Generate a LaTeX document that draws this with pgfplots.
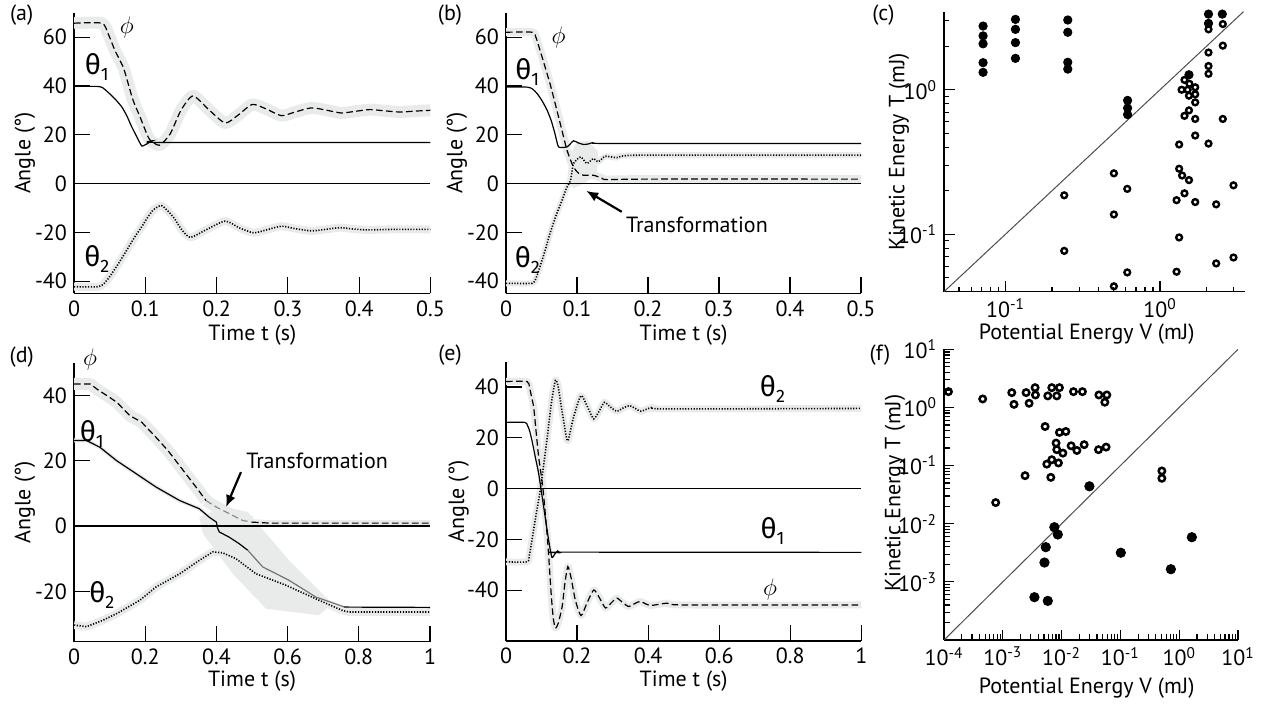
\documentclass[border=0pt]{standalone}
\usepackage{fontspec}
\setmainfont{PT Sans}
\newfontfamily\grk{Fira Sans}
\usepackage{pgfplots}
\usepackage{pgfplotstable}
\pgfplotsset{compat=1.18}
\usetikzlibrary{arrows.meta}
\definecolor{bandgray}{RGB}{233,235,234}
\newcommand\fs{\fontsize{11}{13}\selectfont}
\newcommand\thl[1]{{\grk\fontsize{14}{16}\selectfont θ\raisebox{-3pt}{\fontsize{9}{10}\selectfont #1}}}
\newcommand\phil{{\fontsize{12}{14}\selectfont$\phi$}}

\pgfplotsset{
  panel/.style={scale only axis, anchor=south west,
    axis x line*=bottom, axis y line*=left,
    axis line style={-, line width=0.6pt},
    tick align=inside, tick style={black, line width=0.6pt},
    major tick length=8pt, clip mode=individual,
    ticklabel style={font=\fs}, label style={font=\fs, inner sep=0pt}},
  logp/.style={panel, major tick length=5.5pt, minor tick length=2.5pt},
  bnd/.style={bandgray, line width=#1, line join=round, no marks},
  th1/.style={black, line width=0.6pt, no marks},
  phs/.style={black, line width=0.6pt, dash pattern=on 3.3pt off 1.7pt, no marks},
  th2/.style={black, line width=0.8pt, dash pattern=on 0.6pt off 0.8pt, no marks},
  opn/.style={only marks, mark=o, mark size=#1, mark options={black, line width=1.2pt}},
  fil/.style={only marks, mark=*, mark size=#1, mark options={black, fill=black}},
}

% ---- panel (a)
\pgfplotstableread{
t v
0 65.7
0.039 65.7
0.048 61.3
0.0575 54.5
0.069 47.7
0.076 40.9
0.083 34
0.0926 27.3
0.102 20.4
0.107 17.7
0.12 15.7
0.135 20.4
0.15 30
0.167 35.9
0.19 30
0.212 24.8
0.23 28
0.25 32.4
0.27 30.5
0.291 27.8
0.31 29.3
0.333 31
0.355 30
0.375 28.9
0.395 29.6
0.415 30.3
0.435 29.8
0.457 29.3
0.48 29.7
0.5 30
}\aphi
\pgfplotstableread{
t v
0 39.8
0.032 39.8
0.04 39.3
0.05 36.8
0.058 34.5
0.067 31.4
0.074 27.8
0.081 23.2
0.088 19.2
0.095 15.4
0.102 16.2
0.11 17.5
0.12 16.8
0.5 16.8
}\athone
\pgfplotstableread{
t v
0 -42.3
0.034 -42.3
0.042 -41
0.05 -38.2
0.062 -33
0.074 -27.3
0.085 -22
0.095 -17.7
0.103 -14
0.111 -10.9
0.123 -9.1
0.139 -13.6
0.15 -18.5
0.163 -22.1
0.185 -19
0.212 -15.4
0.232 -18.2
0.252 -20.2
0.27 -19
0.291 -17.5
0.31 -18.5
0.333 -19.4
0.353 -18.8
0.373 -18.1
0.39 -18.6
0.41 -19
0.45 -18.8
0.5 -18.8
}\athtwo

% ---- panel (b)
\pgfplotstableread{
t v
0 62
0.037 62
0.042 60
0.048 54.5
0.062 40.9
0.074 27.3
0.086 13.6
0.095 6.8
0.102 4.3
0.109 3.4
0.123 3.4
0.135 2.2
0.142 1.6
0.2 1.8
0.5 1.8
}\bphi
\pgfplotstableread{
t v
0 39.5
0.03 39.5
0.037 38.8
0.044 36.8
0.051 33.8
0.058 30
0.064 25.5
0.069 20.4
0.074 15
0.086 15
0.095 17.5
0.102 16.6
0.109 16
0.116 16.2
0.123 16.8
0.14 16.4
0.5 16.4
}\bthone
\pgfplotstableread{
t v
0 -40.9
0.037 -40.9
0.042 -39
0.048 -34
0.055 -27.5
0.062 -20.4
0.07 -13.5
0.079 -6.8
0.085 -2
0.091 1.4
0.095 8.2
0.105 10.9
0.114 8.2
0.123 10.2
0.13 8.9
0.14 11.2
0.156 10.6
0.185 11.6
0.5 11.6
}\bthtwo

% ---- panel (d)
\pgfplotstableread{
t v
0 43.5
0.045 43.5
0.07 41.5
0.1 39.4
0.12 37.9
0.157 33.8
0.19 31.8
0.23 27.2
0.264 23.1
0.3 18
0.343 11.9
0.371 7.8
}\dphia
\pgfplotstableread{
t v
0.371 7.8
0.4 5.8
0.436 3.8
0.474 1.7
0.5 1.2
}\dphib
\pgfplotstableread{
t v
0.5 1.2
0.55 0.9
1 0.9
}\dphic
\pgfplotstableread{
t v
0 26.2
0.035 26.2
0.073 24.1
0.12 20
0.175 16
0.231 11.9
0.297 7.8
0.352 5.3
0.38 2.7
0.4 1.2
0.403 -0.5
0.408 -1.8
0.436 -3.4
0.464 -5.4
0.488 -7.4
}\dthonea
\pgfplotstableread{
t v
0.488 -7.4
0.53 -12.5
0.604 -16.6
0.679 -21.7
0.758 -24.7
}\dthoneb
\pgfplotstableread{
t v
0.758 -24.8
1 -24.9
}\dthonec
\pgfplotstableread{
t v
0 -30.3
0.035 -30.8
0.082 -28.8
0.12 -26.8
0.185 -22.7
0.231 -18.6
0.297 -14.6
0.352 -10.5
0.39 -7.9
0.418 -8.2
0.455 -10
0.511 -14.6
0.595 -18.1
0.688 -22.7
0.753 -25.8
0.772 -26.3
1 -26.3
}\dthtwo

% ---- panel (e)
\pgfplotstableread{
t v
0 42.2
0.059 42.2
0.066 40
0.072 36
0.078 32
0.085 22
0.092 12.4
0.104 0
0.117 -20.3
0.127 -41.2
0.133 -51
0.139 -54.9
0.147 -53
0.158 -46.4
0.166 -37
0.174 -30.7
0.183 -35
0.195 -43.8
0.211 -50
0.228 -45
0.247 -39.9
0.263 -43
0.28 -47
0.296 -45
0.312 -43.1
0.328 -44.8
0.345 -46.4
0.362 -45.3
0.378 -44.4
0.406 -46
0.453 -45.1
0.5 -45.8
1 -45.8
}\ephi
\pgfplotstableread{
t v
0 26.1
0.053 26.1
0.06 25
0.066 23
0.073 19
0.083 12
0.092 5.9
0.106 -7.2
0.12 -20.3
0.129 -27
0.137 -25.8
0.145 -24.5
0.152 -25.2
0.165 -25
1 -25.1
}\ethone
\pgfplotstableread{
t v
0 -28.8
0.059 -28.8
0.066 -26
0.073 -20.3
0.085 -10
0.097 0
0.115 19
0.127 33
0.139 42.7
0.147 40
0.156 32
0.172 19
0.18 22
0.19 28.1
0.211 36.6
0.23 32
0.247 27.5
0.262 30.5
0.277 34
0.295 32
0.312 30.5
0.33 31.8
0.347 32.7
0.365 31.5
0.38 30.5
0.411 32
0.45 31.4
1 31.6
}\ethtwo

\begin{document}
\begin{tikzpicture}
\useasboundingbox (0,0) rectangle (630.5pt,351.5pt);

% (a)
\begin{axis}[panel, at={(37pt,204.85pt)}, width=178.25pt, height=140.3pt,
  xmin=0, xmax=0.5, ymin=-45, ymax=70,
  xtick={0,0.1,0.2,0.3,0.4,0.5}, xticklabels={0,0.1,0.2,0.3,0.4,0.5},
  ytick={-40,-20,0,20,40,60}, yticklabels={-40,-20,0,20,40,60},
  xlabel={Time t (s)}, ylabel={Angle (°)},
  xlabel style={at={(axis description cs:0.5,-0.15)}, anchor=center},
  ylabel style={at={(axis description cs:-0.1374,0.5)}, anchor=center}]
\addplot[bnd=6pt, smooth, tension=0.4] table {\aphi};
\addplot[bnd=4pt, smooth, tension=0.4] table {\athtwo};
\addplot[black, line width=0.6pt] coordinates {(0,0) (0.5,0)};
\addplot[phs, smooth, tension=0.4] table {\aphi};
\addplot[th1, smooth, tension=0.3] table {\athone};
\addplot[th2, smooth, tension=0.4] table {\athtwo};
\node at (0.074,64) {\phil};
\node at (0.032,47.6) {\thl{1}};
\node at (0.032,-31) {\thl{2}};
\end{axis}

% (b)
\begin{axis}[panel, at={(253pt,204.85pt)}, width=177.5pt, height=140.3pt,
  xmin=0, xmax=0.5, ymin=-45, ymax=70,
  xtick={0,0.1,0.2,0.3,0.4,0.5}, xticklabels={0,0.1,0.2,0.3,0.4,0.5},
  ytick={-40,-20,0,20,40,60}, yticklabels={-40,-20,0,20,40,60},
  xlabel={Time t (s)}, ylabel={Angle (°)},
  xlabel style={at={(axis description cs:0.5,-0.15)}, anchor=center},
  ylabel style={at={(axis description cs:-0.138,0.5)}, anchor=center}]
\addplot[fill=bandgray, draw=none] coordinates {(0.086,1) (0.09,12) (0.1,17) (0.115,17.5) (0.13,13) (0.128,4) (0.11,0) (0.095,-2)} -- cycle;
\addplot[bnd=4pt, smooth, tension=0.4] table {\bphi};
\addplot[bnd=3pt, smooth, tension=0.4] table {\bthtwo};
\addplot[black, line width=0.6pt] coordinates {(0,0) (0.5,0)};
\addplot[phs, smooth, tension=0.4] table {\bphi};
\addplot[th1, smooth, tension=0.3] table {\bthone};
\addplot[th2, smooth, tension=0.3] table {\bthtwo};
\node at (0.074,59.8) {\phil};
\node at (0.03,45.5) {\thl{1}};
\node at (0.03,-31.4) {\thl{2}};
\node[font=\fs] at (0.269,-17) {Transformation};
\draw[line width=1.1pt, -{Latex[length=6pt,width=5pt]}] (0.163,-11.6) -- (0.113,-3);
\end{axis}

% (c)
\begin{loglogaxis}[logp, at={(472pt,205.65pt)}, width=150.5pt, height=140pt,
  xmin=0.04, xmax=3.55, ymin=0.04, ymax=3.47,
  xtick={0.1,1}, xticklabels={10\textsuperscript{-1},10\textsuperscript{0}},
  ytick={0.1,1}, yticklabels={10\textsuperscript{-1},10\textsuperscript{0}},
  minor xtick={0.05,0.06,0.07,0.08,0.09,0.2,0.3,0.4,0.5,0.6,0.7,0.8,0.9,2,3},
  minor ytick={0.05,0.06,0.07,0.08,0.09,0.2,0.3,0.4,0.5,0.6,0.7,0.8,0.9,2,3},
  xlabel={Potential Energy V (mJ)}, ylabel={Kinetic Energy T (mJ)},
  xlabel style={at={(axis description cs:0.474,-0.15)}, anchor=center},
  ylabel style={at={(axis description cs:-0.15,0.5)}, anchor=center}]
\addplot[black!70, line width=0.5pt] coordinates {(0.04,0.04) (3.47,3.47)};
\addplot[fil=2.1pt] coordinates {
 (0.0716,2.76) (0.0716,2.36) (0.0716,2.08) (0.0716,1.54) (0.0716,1.32)
 (0.116,3.07) (0.116,2.62) (0.116,2.12) (0.116,1.65)
 (0.253,3.04) (0.253,2.50) (0.253,1.55) (0.253,1.39)
 (0.617,0.844) (0.617,0.747) (0.617,0.673)
 (2.06,3.34) (2.06,2.88) (2.53,3.34) (1.54,1.27)};
\addplot[opn=1.45pt] coordinates {
 (2.06,2.62) (2.06,1.81) (2.06,1.46) (2.06,1.29) (2.06,0.424)
 (2.55,2.85) (2.55,2.02) (2.55,0.628)
 (2.99,0.218) (2.99,0.069) (2.31,0.161) (2.31,0.0628)
 (1.44,1.17) (1.55,1.10) (1.69,1.04) (1.38,1.0) (1.51,1.0) (1.69,0.93)
 (1.54,0.91) (1.69,0.818) (1.54,0.72) (1.44,0.66) (1.69,0.628) (1.69,0.482)
 (1.33,0.418) (1.33,0.284) (1.39,0.255) (1.54,0.237) (1.44,0.192)
 (1.28,0.172) (1.69,0.167) (1.33,0.095) (1.28,0.055)
 (0.24,0.186) (0.24,0.0767) (0.503,0.264) (0.503,0.137) (0.503,0.0436)
 (0.614,0.206) (0.614,0.0544)};
\end{loglogaxis}

% (d)
\begin{axis}[panel, at={(37pt,30.65pt)}, width=178pt, height=139.5pt,
  xmin=0, xmax=1, ymin=-35.4, ymax=50,
  xtick={0,0.2,0.4,0.6,0.8,1}, xticklabels={0,0.2,0.4,0.6,0.8,1},
  ytick={-20,0,20,40}, yticklabels={-20,0,20,40},
  xlabel={Time t (s)}, ylabel={Angle (°)},
  xlabel style={at={(axis description cs:0.5,-0.142)}, anchor=center},
  ylabel style={at={(axis description cs:-0.1376,0.5)}, anchor=center}]
\addplot[fill=bandgray, draw=none] coordinates {(0.352,2.7) (0.42,6) (0.488,4.3) (0.604,-10.5) (0.725,-23.7) (0.688,-27.3) (0.539,-25.3) (0.446,-14.6) (0.362,-2.3)} -- cycle;
\addplot[bnd=6pt] table {\dphia};
\addplot[bnd=6pt] table {\dphib};
\addplot[bnd=3pt] table {\dphic};
\addplot[bnd=4pt] table {\dthtwo};
\addplot[bnd=2pt] table {\dthonea};
\addplot[black, line width=0.6pt] coordinates {(0,0) (1,0)};
\addplot[phs] table {\dphia};
\addplot[phs, black!45] table {\dphib};
\addplot[phs] table {\dphic};
\addplot[th1] table {\dthonea};
\addplot[th1, black!55] table {\dthoneb};
\addplot[th1] table {\dthonec};
\addplot[th2] table {\dthtwo};
\node at (0.045,51.1) {\phil};
\node at (0.05,28.3) {\thl{1}};
\node at (0.078,-21.2) {\thl{2}};
\node[font=\fs] at (0.683,20) {Transformation};
\draw[line width=1.1pt, -{Latex[length=6pt,width=5pt]}] (0.469,16.5) -- (0.427,5.8);
\end{axis}

% (e)
\begin{axis}[panel, at={(253pt,31pt)}, width=177.65pt, height=139.65pt,
  xmin=0, xmax=1, ymin=-60, ymax=50,
  xtick={0,0.2,0.4,0.6,0.8,1}, xticklabels={0,0.2,0.4,0.6,0.8,1},
  ytick={-40,-20,0,20,40}, yticklabels={-40,-20,0,20,40},
  xlabel={Time t (s)}, ylabel={Angle (°)},
  xlabel style={at={(axis description cs:0.5,-0.142)}, anchor=center},
  ylabel style={at={(axis description cs:-0.1334,0.5)}, anchor=center}]
\addplot[bnd=3.5pt, smooth, tension=0.4] table {\ephi};
\addplot[bnd=3.5pt, smooth, tension=0.4] table {\ethtwo};
\addplot[black, line width=0.6pt] coordinates {(0,0) (1,0)};
\addplot[phs, smooth, tension=0.4] table {\ephi};
\addplot[th1, smooth, tension=0.4] table {\ethone};
\addplot[th2, smooth, tension=0.4] table {\ethtwo};
\node at (0.75,39.3) {\thl{2}};
\node at (0.75,-16.7) {\thl{1}};
\node at (0.743,-39.9) {\phil};
\end{axis}

% (f)
\begin{loglogaxis}[logp, at={(472pt,31.5pt)}, width=147pt, height=145.35pt,
  major tick length=5pt, minor tick length=3pt,
  xmin=1e-4, xmax=10, ymin=1e-4, ymax=10,
  xtick={1e-4,1e-3,1e-2,1e-1,1,10},
  xticklabels={10\textsuperscript{-4},10\textsuperscript{-3},10\textsuperscript{-2},10\textsuperscript{-1},10\textsuperscript{0},10\textsuperscript{1}},
  ytick={1e-4,1e-3,1e-2,1e-1,1,10},
  yticklabels={{},10\textsuperscript{-3},10\textsuperscript{-2},10\textsuperscript{-1},10\textsuperscript{0},10\textsuperscript{1}},
  minor xtick={2e-4,3e-4,4e-4,5e-4,6e-4,7e-4,8e-4,9e-4,2e-3,3e-3,4e-3,5e-3,6e-3,7e-3,8e-3,9e-3,0.02,0.03,0.04,0.05,0.06,0.07,0.08,0.09,0.2,0.3,0.4,0.5,0.6,0.7,0.8,0.9,2,3,4,5,6,7,8,9},
  minor ytick={2e-4,3e-4,4e-4,5e-4,6e-4,7e-4,8e-4,9e-4,2e-3,3e-3,4e-3,5e-3,6e-3,7e-3,8e-3,9e-3,0.02,0.03,0.04,0.05,0.06,0.07,0.08,0.09,0.2,0.3,0.4,0.5,0.6,0.7,0.8,0.9,2,3,4,5,6,7,8,9},
  xlabel={Potential Energy V (mJ)}, ylabel={Kinetic Energy T (mJ)},
  xlabel style={at={(axis description cs:0.485,-0.165)}, anchor=center},
  ylabel style={at={(axis description cs:-0.1667,0.506)}, anchor=center}]
\addplot[black!70, line width=0.5pt] coordinates {(1e-4,1e-4) (10,10)};
\addplot[opn=1.6pt, mark options={line width=1.25pt}] coordinates {
 (1.19e-4,1.87) (4.55e-4,1.40) (1.42e-3,1.80) (1.55e-3,1.13) (2.49e-3,1.80)
 (2.80e-3,1.18) (3.54e-3,2.19) (3.59e-3,1.64) (5.82e-3,1.58) (6.81e-3,2.19)
 (8.28e-3,1.58) (9.18e-3,2.19) (1.59e-2,1.87) (2.26e-2,1.87) (4.30e-2,1.64)
 (5.43e-2,1.23) (5.87e-2,1.64)
 (5.24e-3,0.470) (9.18e-3,0.372) (1.18e-2,0.386) (8.05e-3,0.244) (8.28e-3,0.188)
 (1.05e-2,0.164) (1.45e-2,0.219) (1.82e-2,0.182) (2.42e-2,0.229) (4.24e-2,0.188)
 (5.71e-2,0.208) (6.81e-3,0.126) (5.60e-3,0.106) (8.83e-3,0.111)
 (2.39e-3,0.0671) (6.55e-3,0.0628) (7.57e-4,0.0231) (0.507,0.0809) (0.507,0.0605)};
\addplot[fil=2.35pt] coordinates {
 (2.97e-2,0.0440) (7.53e-3,8.71e-3) (8.61e-3,6.53e-3) (5.38e-3,3.95e-3)
 (5.11e-3,2.15e-3) (3.45e-3,5.45e-4) (5.82e-3,4.71e-4) (0.1016,3.17e-3)
 (0.721,1.65e-3) (1.64,5.86e-3)};
\end{loglogaxis}

\node[font=\fs] at (10.85pt,344pt) {(a)};
\node[font=\fs] at (225pt,344pt) {(b)};
\node[font=\fs] at (441.7pt,344pt) {(c)};
\node[font=\fs] at (10.85pt,173.2pt) {(d)};
\node[font=\fs] at (225pt,174pt) {(e)};
\node[font=\fs] at (440pt,174pt) {(f)};
\end{tikzpicture}
\end{document}
